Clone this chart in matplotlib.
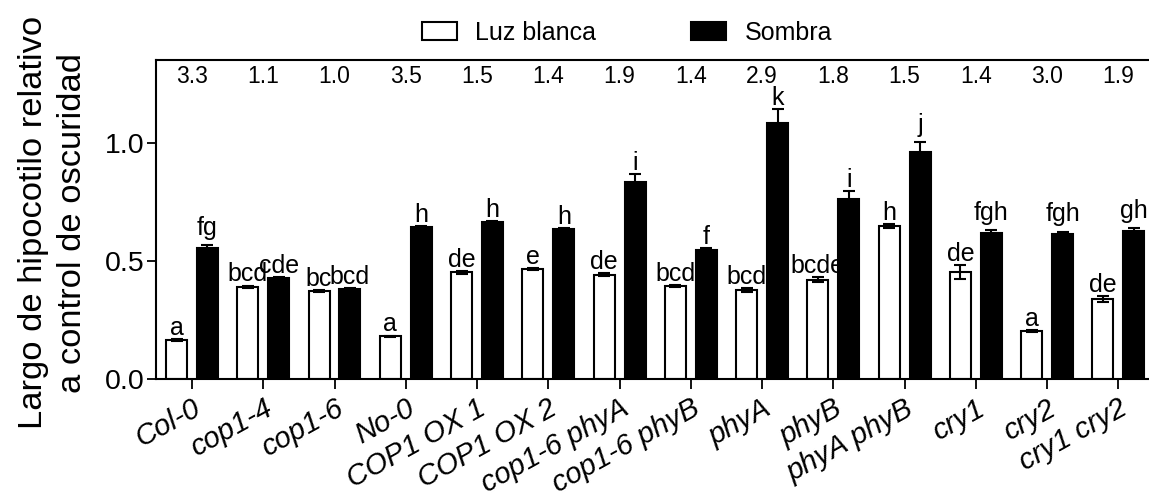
import numpy as np
import matplotlib
matplotlib.use("Agg")
import matplotlib.pyplot as plt
from matplotlib.patches import Patch

plt.rcParams['font.family'] = ['Liberation Sans', 'DejaVu Sans']

genotypes = ["Col-0", "cop1-4", "cop1-6", "No-0", "COP1 OX 1", "COP1 OX 2",
             "cop1-6 phyA", "cop1-6 phyB", "phyA", "phyB", "phyA phyB",
             "cry1", "cry2", "cry1 cry2"]

luz_blanca = [0.165, 0.391, 0.373, 0.181, 0.453, 0.465, 0.442, 0.394,
              0.378, 0.421, 0.648, 0.453, 0.203, 0.338]
luz_blanca_err = [0.005, 0.005, 0.003, 0.003, 0.006, 0.005, 0.006, 0.004,
                  0.008, 0.010, 0.007, 0.031, 0.004, 0.012]

sombra = [0.554, 0.427, 0.383, 0.644, 0.664, 0.634, 0.837, 0.548,
          1.087, 0.765, 0.963, 0.620, 0.616, 0.628]
sombra_err = [0.012, 0.006, 0.004, 0.005, 0.007, 0.005, 0.030, 0.006,
              0.057, 0.032, 0.040, 0.011, 0.008, 0.012]

letras_blanca = ["a", "bcd", "bc", "a", "de", "e", "de", "bcd", "bcd",
                 "bcde", "h", "de", "a", "de"]
letras_sombra = ["fg", "cde", "bcd", "h", "h", "h", "i", "f", "k", "i",
                 "j", "fgh", "fgh", "gh"]

cocientes = ["3.3", "1.1", "1.0", "3.5", "1.5", "1.4", "1.9", "1.4", "2.9",
             "1.8", "1.5", "1.4", "3.0", "1.9"]

W, H = 1149, 498
fig = plt.figure(figsize=(W / 100, H / 100), dpi=100)
ax = fig.add_axes([156 / W, (H - 379) / H, 998 / W, 319 / H])

x = np.arange(len(genotypes))
bw = 0.295
off = 0.217

ax.bar(x - off, luz_blanca, width=bw, color="white", edgecolor="black",
       linewidth=1.5, zorder=2)
ax.bar(x + off, sombra, width=bw, color="black", edgecolor="black",
       linewidth=1.5, zorder=2)
ekw = dict(fmt="none", ecolor="black", elinewidth=1.5, capsize=4.5,
           capthick=1.5, zorder=3)
ax.errorbar(x - off, luz_blanca, yerr=luz_blanca_err, **ekw)
ax.errorbar(x + off, sombra, yerr=sombra_err, **ekw)

# significance letters above each bar
desc = set("gjpqy")
def put_letters(xs, vals, errs, labels):
    for xi, v, e, lab in zip(xs, vals, errs, labels):
        dy = 7.5 if any(c in desc for c in lab) else 3.0
        ax.annotate(lab, (xi, v + e), xytext=(0, dy), textcoords="offset points",
                    ha="center", va="baseline", fontsize=18, zorder=4)

put_letters(x - off, luz_blanca, luz_blanca_err, letras_blanca)
put_letters(x + off, sombra, sombra_err, letras_sombra)

# shade / white-light ratios along the top
for xi, r in zip(x, cocientes):
    ax.text(xi, 1.28, r, ha="center", va="center", fontsize=16.5)

ax.set_xlim(-0.505, 13.5)
ax.set_ylim(0, 1.352)
ax.set_yticks([0.0, 0.5, 1.0])
ax.set_yticklabels(["0.0", "0.5", "1.0"])
ax.set_xticks(x)
ax.set_xticklabels(genotypes, rotation=29, ha="right", va="top",
                   rotation_mode="anchor", fontstyle="italic", fontsize=21)
ax.tick_params(axis="y", labelsize=20.5, length=6.5, width=1.3, pad=2)
ax.tick_params(axis="x", length=7, width=1.3, pad=4)
for s in ["left", "bottom", "top"]:
    ax.spines[s].set_linewidth(1.5)
ax.spines["right"].set_visible(False)

ax.set_ylabel("Largo de hipocotilo relativo\na control de oscuridad",
              fontsize=24.8, linespacing=1.32)
ax.yaxis.set_label_coords(-0.068, 0.49)

handles = [Patch(facecolor="white", edgecolor="black", linewidth=1.5),
           Patch(facecolor="black", edgecolor="black", linewidth=1.5)]
fig.legend(handles, ["Luz blanca", "Sombra"], loc="center",
           bbox_to_anchor=(627 / W, 1 - 33 / H), ncol=2, frameon=False,
           fontsize=18, handlelength=1.4, handleheight=0.7,
           handletextpad=0.75, columnspacing=3.8)

fig.savefig("out.png", dpi=100)
